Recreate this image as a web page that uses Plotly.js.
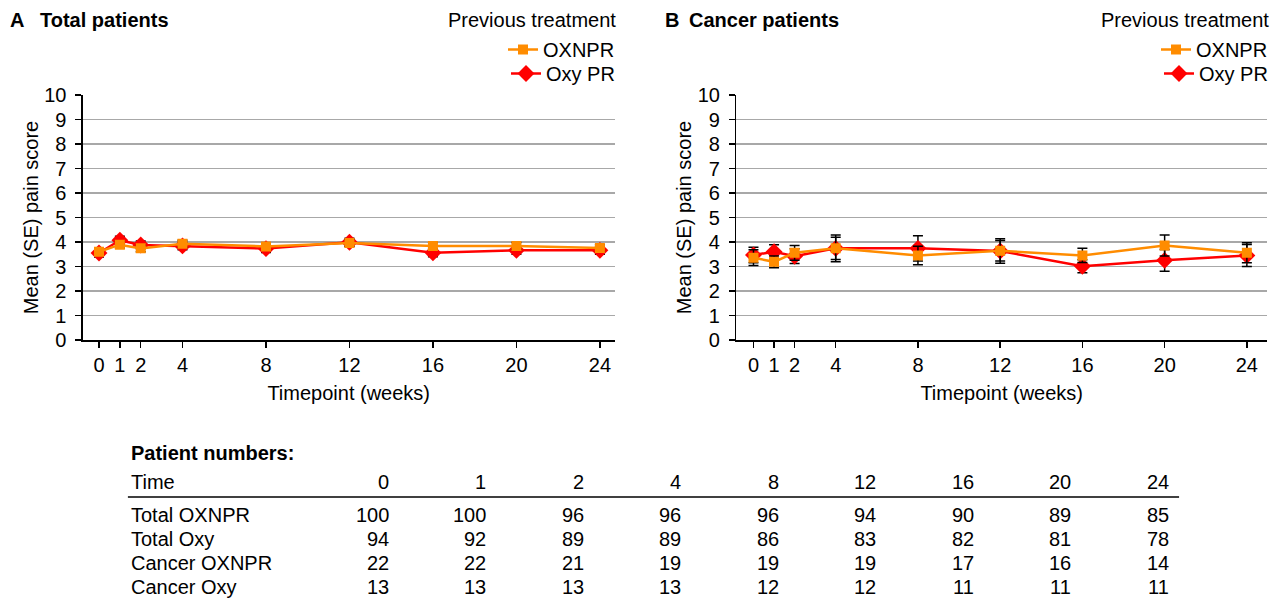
<!DOCTYPE html>
<html>
<head>
<meta charset="utf-8">
<script src="https://cdn.plot.ly/plotly-3.0.1.min.js"></script>
<style>
html,body{margin:0;padding:0;background:#fff;}
#chart{width:1273px;height:599px;}
</style>
</head>
<body>
<div id="chart"></div>
<script>
// ---- data ----
const weeks = [0, 1, 2, 4, 8, 12, 16, 20, 24];
const weekTickLabels = ['0', '1', '2', '4', '8', '12', '16', '20', '24'];

const totalOXNPR = [3.60, 3.89, 3.74, 3.93, 3.82, 3.96, 3.84, 3.84, 3.75];
const totalOXNPR_SE = [0.14, 0.14, 0.14, 0.14, 0.14, 0.14, 0.14, 0.14, 0.14];
const totalOxyPR = [3.55, 4.07, 3.88, 3.84, 3.73, 3.99, 3.56, 3.66, 3.66];
const totalOxyPR_SE = [0.16, 0.16, 0.16, 0.16, 0.16, 0.16, 0.16, 0.16, 0.16];

const cancerOXNPR = [3.36, 3.19, 3.56, 3.74, 3.45, 3.64, 3.45, 3.86, 3.56];
const cancerOXNPR_SE = [0.32, 0.24, 0.30, 0.45, 0.38, 0.42, 0.29, 0.43, 0.41];
const cancerOxyPR = [3.47, 3.60, 3.42, 3.74, 3.74, 3.63, 3.01, 3.25, 3.45];
const cancerOxyPR_SE = [0.32, 0.29, 0.30, 0.55, 0.52, 0.50, 0.27, 0.44, 0.45];

const tableTitle = 'Patient numbers:';
const tableHeader = ['Time', '0', '1', '2', '4', '8', '12', '16', '20', '24'];
const rowLabels = ['Total OXNPR', 'Total Oxy', 'Cancer OXNPR', 'Cancer Oxy'];
const rowTotalOXNPR = [100, 100, 96, 96, 96, 94, 90, 89, 85];
const rowTotalOxy = [94, 92, 89, 89, 86, 83, 82, 81, 78];
const rowCancerOXNPR = [22, 22, 21, 19, 19, 19, 17, 16, 14];
const rowCancerOxy = [13, 13, 13, 13, 12, 12, 11, 11, 11];

// ---- styling / layout ----
const W = 1273, H = 599;
const px = x => x / W;
const py = y => 1 - y / H;
const FONT = 'Liberation Sans, Arial, sans-serif';
const FS = 20;
const ORANGE = '#FF8C00';
const RED = '#FF0000';

function series(x, y, se, name, color, symbol, size, xa, ya, legend) {
  return {
    x: x, y: y, name: name, type: 'scatter', mode: 'lines+markers',
    xaxis: xa, yaxis: ya, legend: legend,
    line: {color: color, width: 2.5},
    marker: {color: color, symbol: symbol, size: size},
    error_y: {type: 'data', array: se, visible: true, color: '#000', thickness: 1.5, width: 5}
  };
}

const traces = [
  series(weeks, totalOxyPR, totalOxyPR_SE, 'Oxy PR', RED, 'diamond', 13, 'x', 'y', 'legend2'),
  series(weeks, totalOXNPR, totalOXNPR_SE, 'OXNPR', ORANGE, 'square', 10, 'x', 'y', 'legend'),
  series(weeks, cancerOxyPR, cancerOxyPR_SE, 'Oxy PR', RED, 'diamond', 13, 'x2', 'y2', 'legend4'),
  series(weeks, cancerOXNPR, cancerOXNPR_SE, 'OXNPR', ORANGE, 'square', 10, 'x2', 'y2', 'legend3')
];

function xAxis(domain, range, anchor) {
  return {
    domain: domain, range: range, anchor: anchor, tickmode: 'array', tickvals: weeks, ticktext: weekTickLabels,
    showgrid: false, zeroline: false, showline: true, linecolor: '#000', linewidth: 1.5,
    ticks: 'outside', ticklen: 6, tickcolor: '#000', tickwidth: 1.5,
    tickfont: {size: FS, color: '#000'},
    title: {text: 'Timepoint (weeks)', font: {size: FS, color: '#000'}, standoff: 11},
    fixedrange: true, automargin: false
  };
}
function yAxis(domainY, anchor) {
  return {
    domain: domainY, range: [0, 10], dtick: 1, tick0: 0, anchor: anchor,
    showgrid: true, gridcolor: '#a8a8a8', gridwidth: 1.5,
    zeroline: false, showline: true, linecolor: '#000', linewidth: 1.5,
    ticks: 'outside', ticklen: 6, tickcolor: '#000', tickwidth: 1.5,
    ticklabelstandoff: 5,
    tickfont: {size: FS, color: '#000'},
    title: {text: 'Mean (SE) pain score', font: {size: FS, color: '#000'}, standoff: 0},
    fixedrange: true, automargin: false
  };
}

const yDom = [py(340), py(95)];

const annotations = [];
function txt(x, y, text, anchor, opts) {
  annotations.push(Object.assign({
    xref: 'paper', yref: 'paper', x: px(x), y: py(y), text: text,
    xanchor: anchor, yanchor: 'middle', showarrow: false,
    font: {family: FONT, size: FS, color: '#000'}
  }, opts || {}));
}
// panel titles
txt(8, 20, '<b>A</b>', 'left');
txt(38, 20, '<b>Total patients</b>', 'left');
txt(664, 20, '<b>B</b>', 'left');
txt(688, 20, '<b>Cancer patients</b>', 'left');
txt(618, 20, 'Previous treatment', 'right');
txt(1272, 20, 'Previous treatment', 'right');

// table
txt(129, 453, '<b>' + tableTitle + '</b>', 'left');
const colStart = 391, colStep = 97.6;
const rowY0 = 482, rowStep = 24;
txt(129, rowY0, tableHeader[0], 'left');
tableHeader.slice(1).forEach((h, i) => txt(colStart + i * colStep, rowY0, h, 'right'));
const rows = [rowTotalOXNPR, rowTotalOxy, rowCancerOXNPR, rowCancerOxy];
rows.forEach((r, j) => {
  const yy = 515 + j * rowStep;
  txt(129, yy, rowLabels[j], 'left');
  r.forEach((v, i) => txt(colStart + i * colStep, yy, String(v), 'right'));
});

function leg(xr, ytop) {
  return {x: px(xr), xanchor: 'right', y: py(ytop), yanchor: 'top', bgcolor: 'rgba(0,0,0,0)',
          font: {size: FS, color: '#000'}, tracegroupgap: 0, itemwidth: 30};
}

const layout = {
  width: W, height: H,
  margin: {l: 0, r: 0, t: 0, b: 0},
  paper_bgcolor: '#fff', plot_bgcolor: '#fff',
  font: {family: FONT, size: FS, color: '#000'},
  showlegend: true,
  xaxis: xAxis([px(83), px(615)], [-0.77, 24.7], 'y'),
  yaxis: yAxis(yDom, 'x'),
  xaxis2: xAxis([px(737), px(1268)], [-0.83, 24.98], 'y2'),
  yaxis2: yAxis(yDom, 'x2'),
  legend: leg(620, 30),
  legend2: leg(620, 54),
  legend3: leg(1274, 30),
  legend4: leg(1274, 54),
  annotations: annotations,
  shapes: [{type: 'line', xref: 'paper', yref: 'paper', x0: px(128), x1: px(1180), y0: py(497), y1: py(497),
            line: {color: '#000', width: 1.5}}]
};

Plotly.newPlot('chart', traces, layout, {displayModeBar: false, staticPlot: true});
</script>
</body>
</html>
